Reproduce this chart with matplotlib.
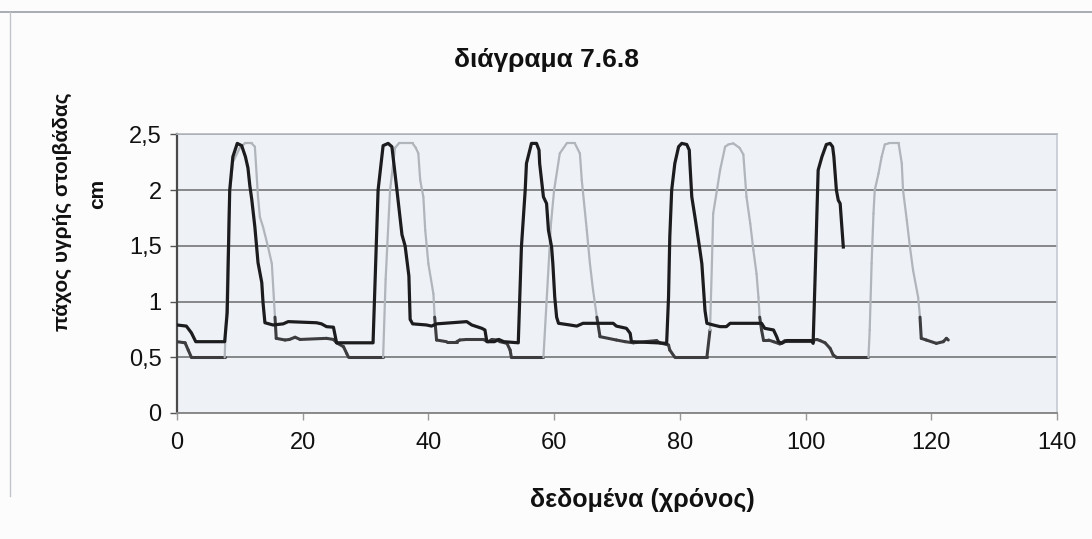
import numpy as np
import matplotlib
matplotlib.use("Agg")
import matplotlib.pyplot as plt
from matplotlib.collections import LineCollection
from matplotlib.lines import Line2D
from matplotlib.ticker import FuncFormatter

plt.rcParams['font.family'] = ['Liberation Sans', 'DejaVu Sans']

title = "διάγραμα 7.6.8"
x_label = "δεδομένα (χρόνος)"
y_label = "πάχος υγρής στοιβάδας"
y_unit = "cm"

# first trace (dark)
a_x = [0, 1.5, 2.3, 3.0, 7.6, 8.0, 8.4, 8.9, 9.6, 10.3, 10.9, 11.3, 11.6, 11.9, 12.4, 12.9, 13.5, 13.7, 14.0,
       15.3, 16.9, 17.7, 22.2, 23.0, 23.8, 24.9, 25.4, 31.2,
       32.0, 32.8, 33.6, 34.2, 35.0, 35.8, 36.3, 36.9, 37.1, 37.5,
       39.7, 40.5, 41.3, 46.1, 46.9, 47.7, 48.5, 49.0, 49.3, 50.5, 51.2, 52.0, 54.3,
       54.8, 55.4, 55.6, 56.4, 57.2, 57.6, 57.7, 58.3, 58.8, 59.1, 59.6, 59.8, 60.1, 60.4, 60.7,
       62.5, 63.6, 64.6, 69.4, 69.9, 71.5, 72.1, 72.3, 76.3, 77.9,
       78.2, 78.4, 78.7, 79.2, 79.8, 80.3, 81.1, 81.5, 81.6, 81.9, 82.4, 83.2, 83.5, 84.0, 84.3,
       85.3, 86.4, 87.4, 88.0, 93.0, 93.5, 94.9, 95.4, 95.7, 96.2, 97.0, 101.0, 101.2,
       101.5, 101.8, 102.0, 102.6, 103.3, 103.9, 104.3, 104.5, 104.9, 105.2, 105.5, 106.0]
a_y = [0.79, 0.78, 0.72, 0.64, 0.64, 0.9, 2.0, 2.3, 2.42, 2.4, 2.3, 2.2, 2.04, 1.92, 1.67, 1.35, 1.17, 0.99, 0.81,
       0.79, 0.80, 0.82, 0.81, 0.80, 0.775, 0.77, 0.63, 0.63,
       2.0, 2.4, 2.42, 2.39, 2.0, 1.6, 1.5, 1.23, 0.84, 0.80,
       0.79, 0.78, 0.80, 0.82, 0.79, 0.775, 0.76, 0.745, 0.64, 0.64, 0.66, 0.64, 0.63,
       1.49, 2.0, 2.24, 2.42, 2.42, 2.36, 2.24, 1.94, 1.88, 1.64, 1.49, 1.34, 1.04, 0.86, 0.805,
       0.79, 0.78, 0.805, 0.805, 0.78, 0.76, 0.715, 0.64, 0.63, 0.625,
       1.04, 1.58, 2.0, 2.24, 2.39, 2.42, 2.41, 2.36, 2.24, 1.94, 1.76, 1.46, 1.34, 0.92, 0.805,
       0.79, 0.775, 0.775, 0.805, 0.805, 0.76, 0.745, 0.685, 0.64, 0.625, 0.65, 0.65, 0.625,
       1.19, 1.79, 2.18, 2.30, 2.41, 2.42, 2.39, 2.30, 2.0, 1.91, 1.88, 1.49]

# second trace
b_x = [0, 1.3, 1.8, 2.3, 7.6, 7.9, 8.3, 8.9, 10.0, 10.8, 11.9, 12.4, 12.9, 13.2, 13.7, 14.5, 15.1, 15.6, 15.8,
       17.2, 17.9, 18.8, 19.6, 23.8, 24.9, 25.4, 26.5, 27.0, 27.3, 32.8,
       33.2, 33.9, 34.7, 35.3, 37.5, 38.0, 38.4, 38.7, 39.2, 39.5, 40.0, 40.8, 41.0, 41.3,
       42.9, 44.5, 45.0, 46.1, 48.7, 49.5, 50.1, 50.9, 51.4, 52.5, 53.0, 53.2, 58.3,
       58.8, 59.5, 60.0, 60.9, 62.0, 63.3, 64.1, 64.4, 65.2, 65.7, 66.2, 66.8, 67.3,
       69.9, 71.3, 72.6, 76.3, 76.8, 78.2, 78.4, 79.2, 84.3,
       84.8, 85.1, 85.3, 85.9, 86.4, 87.2, 87.7, 88.5, 89.5, 90.1, 90.6, 91.2, 91.7, 92.2, 92.5, 92.7, 93.0, 93.3,
       94.1, 94.9, 95.9, 96.7, 101.0, 101.8, 102.3, 103.1, 103.9, 104.4, 104.9, 110.0,
       110.2, 110.5, 110.8, 111.0, 111.6, 112.1, 112.6, 113.2, 114.8, 115.3, 115.5, 116.1, 116.6, 117.1,
       117.9, 118.2, 118.4, 119.2, 120.8, 121.9, 122.4, 122.7]
b_y = [0.64, 0.63, 0.565, 0.5, 0.5, 1.0, 1.9, 2.25, 2.38, 2.42, 2.42, 2.39, 1.94, 1.76, 1.67, 1.49, 1.34, 0.86, 0.67,
       0.655, 0.66, 0.68, 0.66, 0.67, 0.66, 0.63, 0.595, 0.535, 0.5, 0.5,
       1.2, 2.0, 2.38, 2.42, 2.42, 2.38, 2.33, 2.09, 1.94, 1.64, 1.34, 1.07, 0.86, 0.655,
       0.64, 0.64, 0.655, 0.66, 0.66, 0.64, 0.66, 0.655, 0.64, 0.625, 0.565, 0.5, 0.5,
       1.0, 1.7, 2.0, 2.33, 2.42, 2.42, 2.33, 2.09, 1.64, 1.34, 1.10, 0.86, 0.685,
       0.655, 0.64, 0.63, 0.65, 0.63, 0.61, 0.565, 0.5, 0.5,
       0.745, 1.34, 1.79, 2.0, 2.18, 2.39, 2.41, 2.42, 2.38, 2.32, 1.94, 1.70, 1.46, 1.25, 1.04, 0.86, 0.745, 0.655,
       0.655, 0.64, 0.62, 0.65, 0.65, 0.66, 0.65, 0.63, 0.58, 0.52, 0.5, 0.5,
       0.745, 1.34, 1.79, 2.0, 2.15, 2.30, 2.41, 2.42, 2.42, 2.24, 2.0, 1.73, 1.49, 1.28,
       1.04, 0.86, 0.67, 0.655, 0.625, 0.64, 0.67, 0.655]

x_ticks = [0, 20, 40, 60, 80, 100, 120, 140]
y_ticks = [0, 0.5, 1, 1.5, 2, 2.5]

fig = plt.figure(figsize=(10.92, 5.39), dpi=100, facecolor='#fcfcfc')
ax = fig.add_axes([0.162, 0.2338, 0.806, 0.5167])
ax.set_facecolor('#eef2f7')
ax.set_xlim(0, 140)
ax.set_ylim(0, 2.5)
ax.set_xticks(x_ticks)
ax.set_yticks(y_ticks)
ax.yaxis.set_major_formatter(FuncFormatter(lambda v, _: f"{v:g}".replace('.', ',')))
ax.tick_params(axis='both', labelsize=17, colors='#111111', length=5, width=1,
               direction='out', pad=9)
ax.tick_params(axis='x', color='#9a9a9a')
ax.tick_params(axis='y', color='#555555', pad=6)
ax.grid(axis='y', color='#6a6a6a', linewidth=1.1, zorder=1)
ax.set_axisbelow(True)
for side, col, lw in [('left', '#4a4a4a', 1.6), ('bottom', '#8a8a8a', 1.4),
                      ('top', '#b5b9c0', 1.2), ('right', '#c5c9d0', 1.2)]:
    ax.spines[side].set_color(col)
    ax.spines[side].set_linewidth(lw)

# second trace: the raised part of each pulse is drawn pale, level stretches dark grey
bx = np.asarray(b_x)
by = np.asarray(b_y)
pts = np.column_stack([bx, by])
segs = np.stack([pts[:-1], pts[1:]], axis=1)
slope = np.abs(np.diff(by) / np.diff(bx))
raised = (slope > 1.0) | (np.maximum(by[:-1], by[1:]) > 0.9)
colors = np.where(raised[:, None], np.array([[0.69, 0.705, 0.735, 1.0]]),
                  np.array([[0.24, 0.24, 0.25, 1.0]]))
widths = np.where(raised, 1.6, 2.2)
lc = LineCollection(segs, colors=colors, linewidths=widths, capstyle='round',
                    joinstyle='round', zorder=3)
ax.add_collection(lc)

# first trace
ax.plot(a_x, a_y, color='#1c1c1e', linewidth=2.3, solid_joinstyle='round', zorder=4)

fig.text(0.5, 0.888, title, ha='center', va='center', fontsize=19, fontweight='bold', color='#111111')
fig.text(0.588, 0.072, x_label, ha='center', va='center', fontsize=18, fontweight='bold', color='#111111')
fig.text(0.057, 0.607, y_label, ha='center', va='center', rotation=90, fontsize=15,
         fontweight='bold', color='#111111')
fig.text(0.089, 0.64, y_unit, ha='center', va='center', rotation=90, fontsize=15,
         fontweight='bold', color='#111111')

# frame lines around the chart area
fig.add_artist(Line2D([0.0, 1.0], [0.977, 0.977], transform=fig.transFigure,
                      color='#9aa0a8', linewidth=1.2))
fig.add_artist(Line2D([0.009, 0.009], [0.08, 0.977], transform=fig.transFigure,
                      color='#c0c4ca', linewidth=1.0))

fig.savefig("out.png", dpi=100, facecolor=fig.get_facecolor())
